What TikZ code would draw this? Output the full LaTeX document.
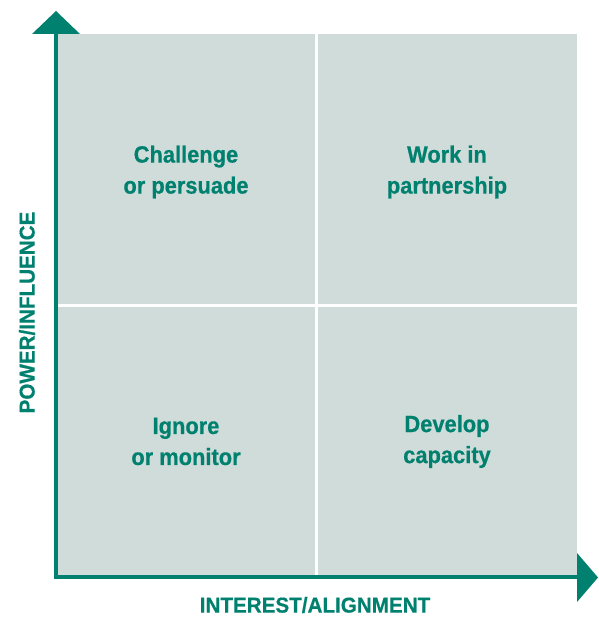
\documentclass[tikz,border=0pt]{standalone}
\usepackage{fontspec}
\setmainfont{Liberation Sans}[BoldFont={Liberation Sans Bold}]
\newfontfamily\quadfont{Liberation Sans Bold}[FakeStretch=0.93,FakeBold=0.6]
\newfontfamily\axisfont{Liberation Sans Bold}[FakeStretch=0.96,FakeBold=0.5]
\definecolor{gridgreen}{RGB}{0,128,110}
\definecolor{gridgray}{RGB}{207,220,217}
\begin{document}
\begin{tikzpicture}[x=1pt,y=1pt,
  quad/.style={text=gridgreen,align=center,font=\quadfont\fontsize{23.5}{31}\selectfont,inner sep=0pt},
  axlabel/.style={text=gridgreen,font=\axisfont\fontsize{21.5}{24}\selectfont,inner sep=0pt},
  divider/.style={draw=white,line width=3pt},
  axisline/.style={draw=gridgreen,line width=4pt}]
\useasboundingbox (0,0) rectangle (598,619);
% quadrant background
\fill[gridgray] (58,44) rectangle (577,585);
\draw[divider] (316,44) -- (316,585);
\draw[divider] (58,313.5) -- (577,313.5);
% axes
\coordinate (origin) at (56,42);
\coordinate (ytop) at (56,586);
\coordinate (xend) at (578,42);
\draw[axisline] (56,40) -- (ytop);
\draw[axisline] (54,42) -- (xend);
\fill[gridgreen] (32,585) -- (80,585) -- (56,608) -- cycle;
\fill[gridgreen] (577,66) -- (577,17) -- (598,41.5) -- cycle;
% quadrant texts
\node[quad] (tl) at (186,447) {Challenge\\or persuade};
\node[quad] (tr) at (447,447) {Work in\\partnership};
\node[quad] (bl) at (186,177.5) {Ignore\\or monitor};
\node[quad] (br) at (447,177.5) {Develop\\capacity};
% axis labels
\node[axlabel] (xl) at (315,14) {INTEREST/ALIGNMENT};
\node[axlabel,rotate=90] (yl) at (27,306.5) {POWER/INFLUENCE};
\end{tikzpicture}
\end{document}
